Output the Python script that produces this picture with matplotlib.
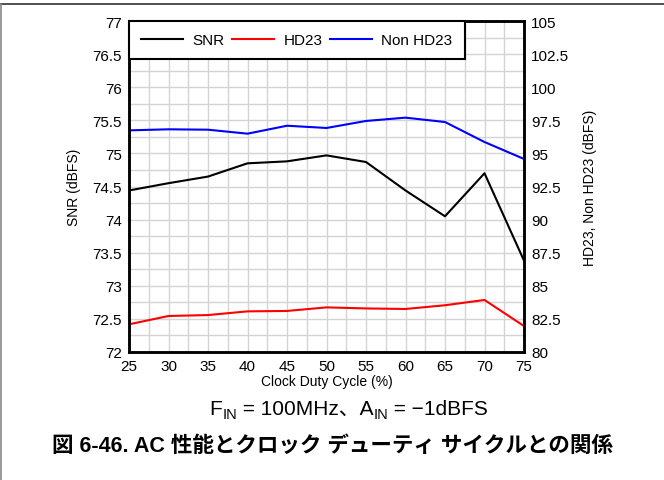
import matplotlib
matplotlib.use('Agg')
import matplotlib.pyplot as plt
from matplotlib.lines import Line2D
from matplotlib.ticker import MultipleLocator

plt.rcParams['font.family'] = ['Liberation Sans', 'Noto Sans CJK JP', 'DejaVu Sans']

# data
duty = [25, 30, 35, 40, 45, 50, 55, 60, 65, 70, 75]
snr = [74.44, 74.55, 74.65, 74.85, 74.88, 74.97, 74.87, 74.44, 74.05, 74.70, 73.38]
hd23 = [82.09, 82.72, 82.79, 83.07, 83.10, 83.37, 83.29, 83.25, 83.53, 83.93, 81.96]
non_hd23 = [96.74, 96.82, 96.79, 96.49, 97.09, 96.92, 97.45, 97.70, 97.37, 95.86, 94.58]

left_ticks = [72, 72.5, 73, 73.5, 74, 74.5, 75, 75.5, 76, 76.5, 77]
right_ticks = [80, 82.5, 85, 87.5, 90, 92.5, 95, 97.5, 100, 102.5, 105]
x_ticks = [25, 30, 35, 40, 45, 50, 55, 60, 65, 70, 75]

W, H = 664, 481
fig = plt.figure(figsize=(W / 100, H / 100), dpi=100)
ax = fig.add_axes([129 / W, 1 - 353 / H, (524 - 129) / W, (353 - 22) / H])
ax2 = ax.twinx()

ax.set_xlim(25, 75)
ax.set_ylim(72, 77)
ax2.set_ylim(80, 105)
ax.set_xticks(x_ticks)
ax.set_xticklabels([str(v) for v in x_ticks])
ax.set_yticks(left_ticks)
ax.set_yticklabels(['%g' % v for v in left_ticks])
ax2.set_yticks(right_ticks)
ax2.set_yticklabels(['%g' % v for v in right_ticks])
ax.xaxis.set_minor_locator(MultipleLocator(2.5))
ax.yaxis.set_minor_locator(MultipleLocator(0.25))
ax.grid(True, which='both', color='#d4d4d4', linewidth=1.0)
ax.set_axisbelow(True)

for a in (ax, ax2):
    a.tick_params(which='both', length=0, labelsize=11, pad=5)
    for s in a.spines.values():
        s.set_linewidth(1.8)
        s.set_color('black')

l1, = ax.plot(duty, snr, color='black', lw=1.5, label='SNR')
l2, = ax2.plot(duty, hd23, color='red', lw=1.5, label='HD23')
l3, = ax2.plot(duty, non_hd23, color='blue', lw=1.5, label='Non HD23')

leg = ax2.legend(handles=[l1, l2, l3], ncol=3, loc='upper left',
                 bbox_to_anchor=(0, 1), borderaxespad=0, fancybox=False,
                 framealpha=1, edgecolor='black', fontsize=11,
                 handlelength=2.75, handletextpad=0.6, columnspacing=0.5,
                 borderpad=0.8)
leg.get_frame().set_linewidth(1.5)

ax.set_ylabel('SNR (dBFS)', fontsize=10, labelpad=8)
ax2.set_ylabel('HD23, Non HD23 (dBFS)', fontsize=10, labelpad=10)
ax.set_xlabel('Clock Duty Cycle (%)', fontsize=10, labelpad=1)

# figure frame (top and left edge)
fig.add_artist(Line2D([0, 1], [1 - 5 / H, 1 - 5 / H], color='#333333', lw=1.2))
fig.add_artist(Line2D([0.5 / W, 0.5 / W], [0, 1 - 5 / H], color='#888888', lw=1.2))

# subtitle with subscripts, drawn as runs of text
runs = [('F', 15, 0), ('IN', 10.5, -4), (' = 100MHz、A', 15, 0), ('IN', 10.5, -4), (' = \u22121dBFS', 15, 0)]
pieces = []
for s, size, dy in runs:
    t = fig.text(0, 0, s, fontsize=size, ha='left', va='baseline')
    pieces.append((t, dy))
fig.canvas.draw()
r = fig.canvas.get_renderer()
widths = [t.get_window_extent(renderer=r).width for t, _ in pieces]
x = 349 - sum(widths) / 2
base = H - 415
for (t, dy), w in zip(pieces, widths):
    t.set_position((x / W, (base + dy) / H))
    x += w

fig.text(332 / W, 1 - 446 / H, '図 6-46. AC 性能とクロック デューティ サイクルとの関係',
         fontsize=15.5, fontweight='bold', ha='center', va='center')

fig.savefig('out.png', dpi=100)
